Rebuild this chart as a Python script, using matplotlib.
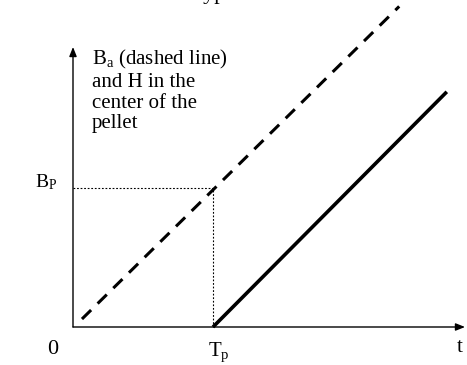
import matplotlib
matplotlib.use("Agg")
import matplotlib.pyplot as plt

# Values (units: T_p = 1, B_P ~ 1)
T_P = 1.0
B_P = 0.99
T_MAX = 2.8
B_MAX = 2.0

# Ba (dashed) and H in the centre of the pellet (solid)
dashed_t = [0.064, 2.33]
dashed_b = [0.057, 2.29]
solid_t = [1.0, 2.67]
solid_h = [0.0, 1.68]

PX = 140.0  # pixels per unit on both axes
X0, Y0 = 73, 327  # origin in pixels
W, H = 467, 365

plt.rcParams["font.family"] = ["Liberation Serif", "DejaVu Serif"]
plt.rcParams["mathtext.fontset"] = "custom"
plt.rcParams["mathtext.rm"] = "Liberation Serif"
plt.rcParams["mathtext.it"] = "Liberation Serif:italic"

fig = plt.figure(figsize=(W / 100, H / 100), dpi=100)
fig.patch.set_facecolor("white")
ax = fig.add_axes([0, 0, 1, 1])
ax.set_xlim(-X0 / PX, (W - X0) / PX)
ax.set_ylim(-(H - Y0) / PX, Y0 / PX)
ax.axis("off")

# Axes with arrows
arrow = dict(arrowstyle="-|>,head_length=0.55,head_width=0.22", color="black",
             lw=1.0, shrinkA=0, shrinkB=0)
ax.annotate("", xy=(T_MAX, 0), xytext=(0, 0), arrowprops=arrow)
ax.annotate("", xy=(0, B_MAX), xytext=(0, 0), arrowprops=arrow)

# Dotted guides
ax.plot([0, T_P], [B_P, B_P], color="black", lw=0.8, dashes=(1.6, 1.6))
ax.plot([T_P, T_P], [0, B_P], color="black", lw=0.8, dashes=(1.6, 1.6))

# Lines
ax.plot(dashed_t, dashed_b, color="black", lw=2.2, dashes=(4.2, 3.0),
        solid_capstyle="butt", dash_capstyle="butt", clip_on=False)
ax.plot(solid_t, solid_h, color="black", lw=2.6, solid_capstyle="butt")

fs = 15
ax.text((92 - X0) / PX, (Y0 - 48) / PX,
        "B$_\\mathregular{a}$ (dashed line)\nand H in the\ncenter of the\npellet",
        fontsize=fs, ha="left", va="top", linespacing=1.13)
ax.text((46 - X0) / PX, (Y0 - 182) / PX, "B$_\\mathregular{P}$",
        fontsize=fs - 1, ha="center", va="center")
ax.text((53 - X0) / PX, (Y0 - 349) / PX, "0", fontsize=fs + 1,
        ha="center", va="center")
ax.text(T_P + 0.04, (Y0 - 352) / PX, "T$_\\mathregular{p}$", fontsize=fs,
        ha="center", va="center")
ax.text((460 - X0) / PX, (Y0 - 348) / PX, "t", fontsize=fs,
        ha="center", va="center")
# title remnant cut off at the top edge
ax.text((192 - X0) / PX, (Y0 + 1) / PX, "Typical", fontsize=fs + 1,
        ha="left", va="baseline", clip_on=False)

fig.savefig("out.png", dpi=100, facecolor="white")
